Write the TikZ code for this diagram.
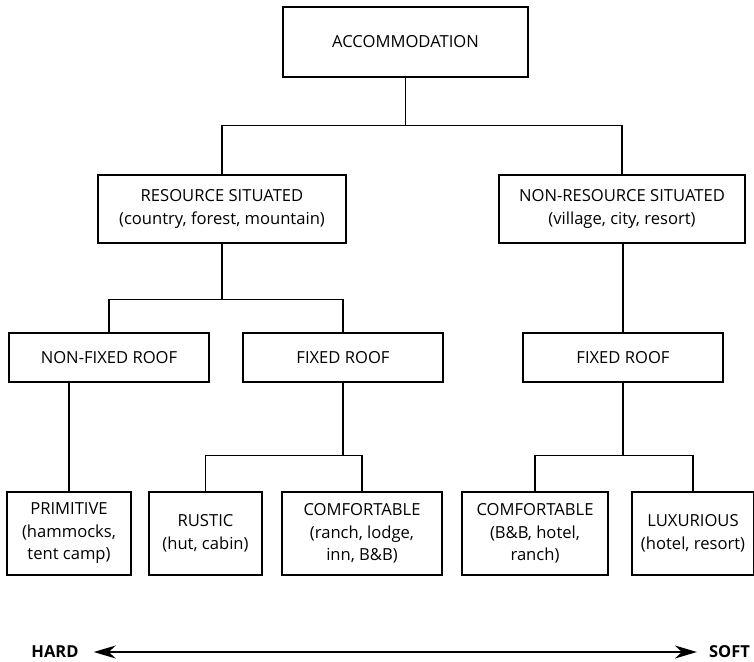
\documentclass[tikz,border=0pt]{standalone}
\usepackage{fontspec}
\setmainfont{Open Sans}
\usetikzlibrary{arrows.meta}
\begin{document}
\begin{tikzpicture}[x=1pt,y=-1pt,
  box/.style={draw, line width=1.2pt, align=center, inner sep=0pt,
    font=\fontsize{16.6}{22.5}\selectfont},
  wire/.style={line width=1.2pt},
  hardsoft/.style={line width=1.8pt, {Stealth[length=22pt,width=13pt,inset=7pt]}-{Stealth[length=22pt,width=13pt,inset=7pt]},
    shorten <=15pt, shorten >=12pt},
  endlabel/.style={inner sep=0pt, font=\fontsize{16.5}{18}\selectfont\bfseries}]
\useasboundingbox (0,0) rectangle (754,661);

% top level
\node[box, minimum width=245pt, minimum height=70pt] (acc) at (405.5,42) {ACCOMMODATION};

% second level
\node[box, minimum width=248pt, minimum height=68pt] (res) at (222,209)
  {RESOURCE SITUATED\\(country, forest, mountain)};
\node[box, minimum width=246pt, minimum height=68pt] (nres) at (622,209)
  {NON-RESOURCE SITUATED\\(village, city, resort)};

% roof types
\node[box, minimum width=200pt, minimum height=49pt] (nfr) at (109,357.5) {NON-FIXED ROOF};
\node[box, minimum width=200pt, minimum height=49pt] (fr1) at (343,357.5) {FIXED ROOF};
\node[box, minimum width=200pt, minimum height=49pt] (fr2) at (623,357.5) {FIXED ROOF};

% comfort levels
\node[box, minimum width=124pt, minimum height=83pt] (prim) at (69,533.5)
  {PRIMITIVE\\(hammocks,\\tent camp)};
\node[box, minimum width=113pt, minimum height=83pt] (rus) at (205.5,533.5)
  {RUSTIC\\(hut, cabin)};
\node[box, minimum width=160pt, minimum height=83pt] (com1) at (362,533.5)
  {COMFORTABLE\\(ranch, lodge,\\inn, B\&B)};
\node[box, minimum width=146pt, minimum height=83pt] (com2) at (535,533.5)
  {COMFORTABLE\\(B\&B, hotel,\\ranch)};
\node[box, minimum width=122pt, minimum height=83pt] (lux) at (693,533.5)
  {LUXURIOUS\\(hotel, resort)};

% tree connectors
\draw[wire] (acc.south) -- ++(0,48) -| (res.north);
\draw[wire] (acc.south) -- ++(0,48) -| (nres.north);
\draw[wire] (res.south) -- ++(0,56) -| (nfr.north);
\draw[wire] (res.south) -- ++(0,56) -| (fr1.north);
\draw[wire] (fr2.north) -- (fr2.north |- nres.south);
\draw[wire] (prim.north) -- (prim.north |- nfr.south);
\draw[wire] (fr1.south) -- ++(0,73) -| (rus.north);
\draw[wire] (fr1.south) -- ++(0,73) -| (com1.north);
\draw[wire] (fr2.south) -- ++(0,73) -| (com2.north);
\draw[wire] (fr2.south) -- ++(0,73) -| (lux.north);

% hard-soft scale
\node[endlabel] (hard) at (55,652) {HARD};
\node[endlabel] (soft) at (729.5,652) {SOFT};
\draw[hardsoft] (hard.east) -- (soft.west);
\end{tikzpicture}
\end{document}
